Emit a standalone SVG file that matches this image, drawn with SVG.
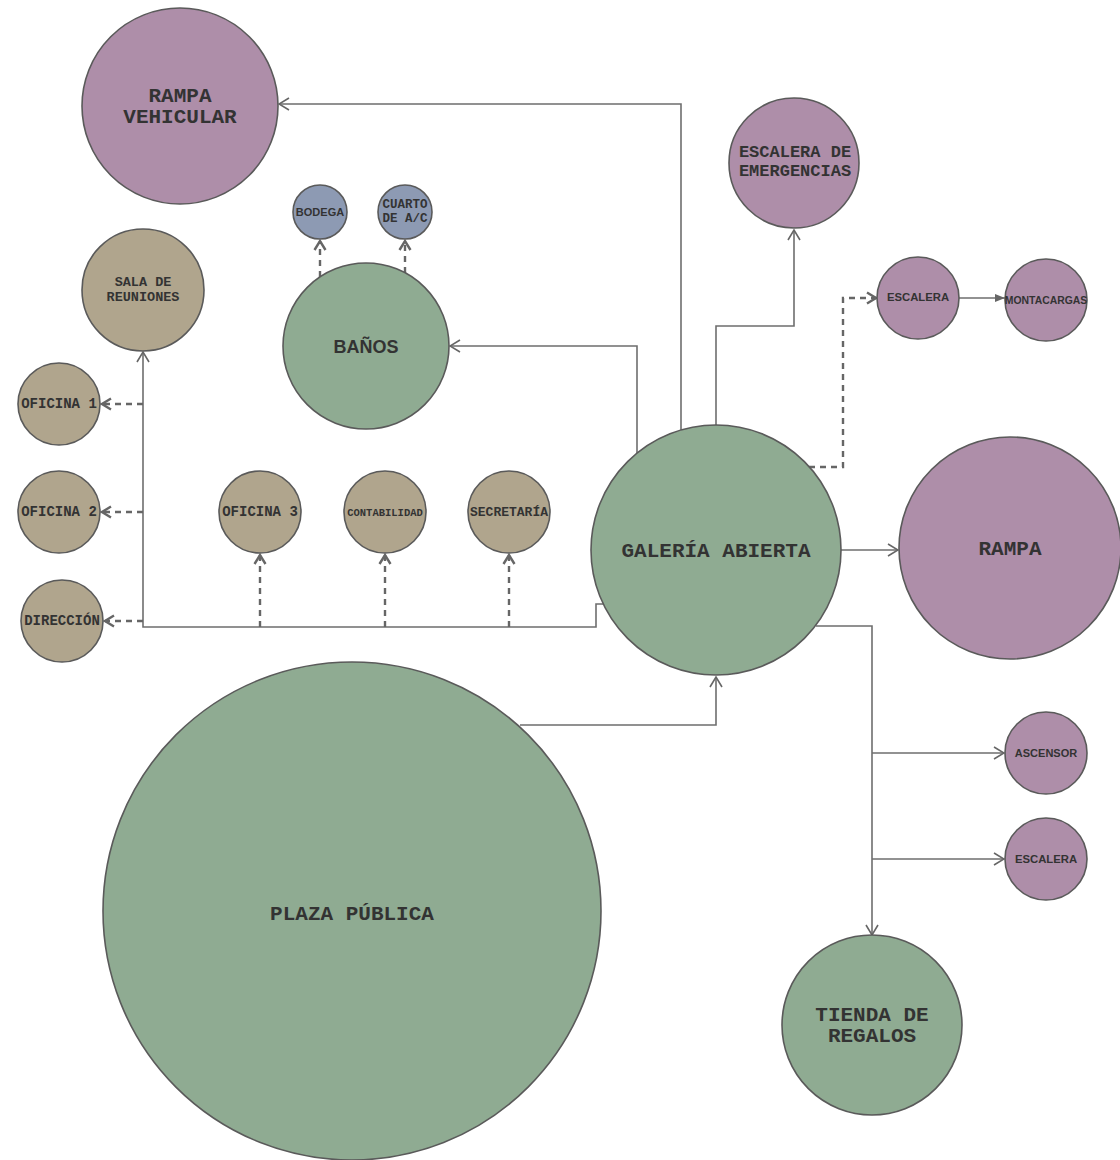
<svg xmlns="http://www.w3.org/2000/svg" width="1120" height="1160" viewBox="0 0 1120 1160">
<defs>
<style>
.n{stroke:#5a5a5a;stroke-width:1.6}
.pu{fill:#ae8ea9}.gr{fill:#8fab92}.ta{fill:#b0a58d}.bl{fill:#8d9ab3}
.m{font-family:"Liberation Mono","DejaVu Sans Mono",monospace;font-weight:bold;fill:#333;text-anchor:middle}
.s{font-family:"Liberation Sans",Arial,sans-serif;font-weight:bold;fill:#333;text-anchor:middle}
.c{fill:none;stroke:#6e6e6e;stroke-width:1.6}
.d{fill:none;stroke:#666;stroke-width:2.4;stroke-dasharray:6 5}
</style>
<marker id="a" viewBox="0 0 12 14" refX="11" refY="7" markerWidth="12" markerHeight="14" markerUnits="userSpaceOnUse" orient="auto">
<path d="M1,1 L11,7 L1,13" fill="none" stroke="#666" stroke-width="1.6"/>
</marker>
<marker id="ad" viewBox="0 0 12 14" refX="10" refY="7" markerWidth="12" markerHeight="14" markerUnits="userSpaceOnUse" orient="auto">
<path d="M1,1.5 L10,7 L1,12.5" fill="none" stroke="#666" stroke-width="2.4"/>
</marker>
<marker id="f" viewBox="0 0 10 8" refX="10" refY="4" markerWidth="10" markerHeight="8" markerUnits="userSpaceOnUse" orient="auto">
<path d="M0,0 L10,4 L0,8 Z" fill="#666"/>
</marker>
</defs>
<rect width="1120" height="1160" fill="#fff"/>
<g id="connectors">
<path class="c" d="M681,430 V104 H279" marker-end="url(#a)"/>
<path class="c" d="M637,453 V346 H450" marker-end="url(#a)"/>
<path class="c" d="M716,425 V326 H794 V230" marker-end="url(#a)"/>
<path class="d" d="M809,467 H843 V298 H876" marker-end="url(#ad)"/>
<path class="c" d="M959,298 H1005" marker-end="url(#f)"/>
<path class="c" d="M841,550 H898" marker-end="url(#a)"/>
<path class="c" d="M604,604 H596 V627 H143 V352" marker-end="url(#a)"/>
<path class="d" d="M143,404 H102" marker-end="url(#ad)"/>
<path class="d" d="M143,512 H102" marker-end="url(#ad)"/>
<path class="d" d="M143,621 H105" marker-end="url(#ad)"/>
<path class="d" d="M260,627 V555" marker-end="url(#ad)"/>
<path class="d" d="M385,627 V555" marker-end="url(#ad)"/>
<path class="d" d="M509,627 V555" marker-end="url(#ad)"/>
<path class="c" d="M520,725 H716 V677" marker-end="url(#a)"/>
<path class="c" d="M816,626 H872 V935" marker-end="url(#a)"/>
<path class="c" d="M872,753 H1004" marker-end="url(#a)"/>
<path class="c" d="M872,859 H1004" marker-end="url(#a)"/>
<path class="d" d="M320,277 V241" marker-end="url(#ad)"/>
<path class="d" d="M405,273 V241" marker-end="url(#ad)"/>
</g>
<g id="rampa-vehicular"><circle class="n pu" cx="180" cy="106" r="98"/><text class="m" x="180" y="102" font-size="21">RAMPA</text><text class="m" x="180" y="123" font-size="21">VEHICULAR</text></g>
<g id="escalera-emergencias"><circle class="n pu" cx="794" cy="163" r="65"/><text class="m" x="795" y="157" font-size="17">ESCALERA DE</text><text class="m" x="795" y="176" font-size="17">EMERGENCIAS</text></g>
<g id="bodega"><circle class="n bl" cx="320" cy="212" r="27"/><text class="s" x="320" y="216" font-size="11">BODEGA</text></g>
<g id="cuarto-ac"><circle class="n bl" cx="405" cy="212" r="27"/><text class="m" x="405" y="208" font-size="12.5">CUARTO</text><text class="m" x="405" y="222" font-size="12.5">DE A/C</text></g>
<g id="banos"><circle class="n gr" cx="366" cy="346" r="83"/><text class="s" x="366" y="353" font-size="18">BAÑOS</text></g>
<g id="sala-reuniones"><circle class="n ta" cx="143" cy="290" r="61"/><text class="m" x="143" y="286" font-size="13.5">SALA DE</text><text class="m" x="143" y="301" font-size="13.5">REUNIONES</text></g>
<g id="escalera-1"><circle class="n pu" cx="918" cy="298" r="41"/><text class="s" x="918" y="301" font-size="11.3">ESCALERA</text></g>
<g id="montacargas"><circle class="n pu" cx="1046" cy="300" r="41"/><text class="s" x="1046" y="304" font-size="10.4">MONTACARGAS</text></g>
<g id="oficina-1"><circle class="n ta" cx="59" cy="404" r="41"/><text class="m" x="59" y="408" font-size="14">OFICINA 1</text></g>
<g id="oficina-2"><circle class="n ta" cx="59" cy="512" r="41"/><text class="m" x="59" y="516" font-size="14">OFICINA 2</text></g>
<g id="direccion"><circle class="n ta" cx="62" cy="621" r="41"/><text class="m" x="62" y="625" font-size="14">DIRECCIÓN</text></g>
<g id="oficina-3"><circle class="n ta" cx="260" cy="512" r="41"/><text class="m" x="260" y="516" font-size="14">OFICINA 3</text></g>
<g id="contabilidad"><circle class="n ta" cx="385" cy="512" r="41"/><text class="m" x="385" y="516" font-size="10.5">CONTABILIDAD</text></g>
<g id="secretaria"><circle class="n ta" cx="509" cy="512" r="41"/><text class="m" x="509" y="516" font-size="13">SECRETARÍA</text></g>
<g id="galeria-abierta"><circle class="n gr" cx="716" cy="550" r="125"/><text class="m" x="716" y="557" font-size="21">GALERÍA ABIERTA</text></g>
<g id="rampa"><circle class="n pu" cx="1010" cy="548" r="111"/><text class="m" x="1010" y="555" font-size="21">RAMPA</text></g>
<g id="plaza-publica"><circle class="n gr" cx="352" cy="911" r="249"/><text class="m" x="352" y="920" font-size="21">PLAZA PÚBLICA</text></g>
<g id="ascensor"><circle class="n pu" cx="1046" cy="753" r="41"/><text class="s" x="1046" y="757" font-size="11">ASCENSOR</text></g>
<g id="escalera-2"><circle class="n pu" cx="1046" cy="859" r="41"/><text class="s" x="1046" y="863" font-size="11.3">ESCALERA</text></g>
<g id="tienda-regalos"><circle class="n gr" cx="872" cy="1025" r="90"/><text class="m" x="872" y="1021" font-size="21">TIENDA DE</text><text class="m" x="872" y="1042" font-size="21">REGALOS</text></g>
</svg>
